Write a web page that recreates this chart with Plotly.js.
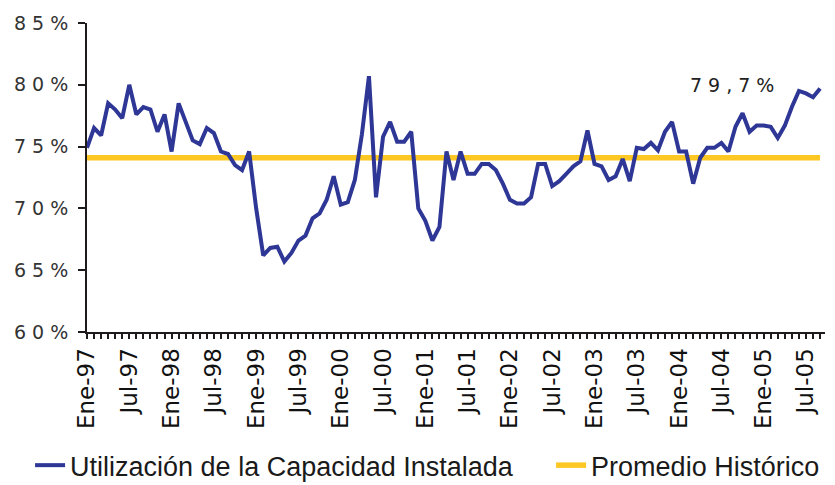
<!DOCTYPE html>
<html>
<head>
<meta charset="utf-8">
<script src="https://cdn.plot.ly/plotly-3.0.1.min.js"></script>
<style>
  html, body { margin: 0; padding: 0; background: #fff; }
  #chart { width: 835px; height: 485px; }
  .ytick text, .annotation-text { letter-spacing: 6px; }
</style>
</head>
<body>
<div id="chart"></div>
<script>
// Month names (Spanish abbreviations) and period covered
var monthNames = ['Ene','Feb','Mar','Abr','May','Jun','Jul','Ago','Sep','Oct','Nov','Dic'];
var startYear = 1997;

// Utilización de la Capacidad Instalada (%), monthly Ene-97 .. Sep-05
var utilizacion = [
  74.9, 76.5, 75.9, 78.5, 78.0, 77.3, 80.0, 77.6, 78.2, 78.0, 76.2, 77.6,
  74.6, 78.5, 77.0, 75.5, 75.2, 76.5, 76.1, 74.6, 74.4, 73.5, 73.1, 74.6,
  70.0, 66.2, 66.8, 66.9, 65.7, 66.4, 67.4, 67.8, 69.2, 69.6, 70.7, 72.6,
  70.3, 70.5, 72.3, 76.0, 80.7, 70.9, 75.8, 77.0, 75.4, 75.4, 76.2, 70.0,
  69.0, 67.4, 68.5, 74.6, 72.3, 74.6, 72.8, 72.8, 73.6, 73.6, 73.1, 72.0,
  70.7, 70.4, 70.4, 70.9, 73.6, 73.6, 71.8, 72.2, 72.8, 73.4, 73.8, 76.3,
  73.6, 73.4, 72.3, 72.6, 74.0, 72.2, 74.9, 74.8, 75.3, 74.7, 76.2, 77.0,
  74.6, 74.6, 72.0, 74.1, 74.9, 74.9, 75.3, 74.6, 76.6, 77.7, 76.2, 76.7,
  76.7, 76.6, 75.7, 76.7, 78.2, 79.5, 79.3, 79.0, 79.7
];

// Promedio Histórico (%)
var promedioHistorico = 74.1;

// Y-axis ticks
var yTickVals = [60, 65, 70, 75, 80, 85];
var yTickText = ['60%', '65%', '70%', '75%', '80%', '85%'];

// Build month labels
var labels = [];
for (var i = 0; i < utilizacion.length; i++) {
  var m = i % 12;
  var yr = startYear + Math.floor(i / 12);
  labels.push(monthNames[m] + '-' + String(yr).slice(2));
}
var tickText = labels.map(function (l, i) {
  var m = i % 12;
  return (m === 0 || m === 6) ? l : '';
});
var promedioSeries = labels.map(function () { return promedioHistorico; });

var lastIdx = utilizacion.length - 1;
var lastVal = utilizacion[lastIdx];

var traceProm = {
  x: labels, y: promedioSeries, type: 'scatter', mode: 'lines',
  name: 'Promedio Histórico',
  line: { color: '#FDC823', width: 5.5 },
  legend: 'legend2', hoverinfo: 'skip'
};
var traceUtil = {
  x: labels, y: utilizacion, type: 'scatter', mode: 'lines',
  name: 'Utilización de la Capacidad Instalada',
  line: { color: '#2E3796', width: 4 },
  legend: 'legend', hoverinfo: 'skip'
};

var legendFont = { family: 'Liberation Sans, sans-serif', size: 27, color: '#1a1a1a' };

var layout = {
  width: 835, height: 485,
  margin: { l: 87, r: 10, t: 23, b: 153 },
  paper_bgcolor: '#ffffff', plot_bgcolor: '#ffffff',
  separators: ',.',
  showlegend: true,
  xaxis: {
    type: 'category',
    range: [0, 104.7],
    tickmode: 'array', tickvals: labels, ticktext: tickText,
    tickangle: -90,
    ticks: 'outside', ticklen: 5, tickwidth: 2, tickcolor: '#1f1a1c',
    showline: true, linecolor: '#1f1a1c', linewidth: 2,
    showgrid: false, zeroline: false,
    tickfont: { family: 'DejaVu Sans, sans-serif', size: 23, color: '#111' }
  },
  yaxis: {
    range: [60, 85],
    tickmode: 'array', tickvals: yTickVals, ticktext: yTickText,
    ticks: 'outside', ticklen: 7, tickwidth: 2, tickcolor: '#1f1a1c',
    showline: true, linecolor: '#1f1a1c', linewidth: 2,
    showgrid: false, zeroline: false,
    tickfont: { family: 'DejaVu Sans, sans-serif', size: 19, color: '#333' }
  },
  legend: {
    orientation: 'h',
    xref: 'container', yref: 'container',
    x: 0.036, y: 0.04, xanchor: 'left', yanchor: 'middle',
    font: legendFont, bgcolor: 'rgba(0,0,0,0)'
  },
  legend2: {
    orientation: 'h',
    xref: 'container', yref: 'container',
    x: 0.66, y: 0.04, xanchor: 'left', yanchor: 'middle',
    font: legendFont, bgcolor: 'rgba(0,0,0,0)'
  },
  annotations: [{
    x: labels[lastIdx - 12], y: lastVal + 0.3,
    xref: 'x', yref: 'y',
    text: String(lastVal).replace('.', ',') + '%',
    showarrow: false,
    font: { family: 'DejaVu Sans, sans-serif', size: 19, color: '#222' }
  }]
};

Plotly.newPlot('chart', [traceProm, traceUtil], layout, { displayModeBar: false, staticPlot: true });
</script>
</body>
</html>
